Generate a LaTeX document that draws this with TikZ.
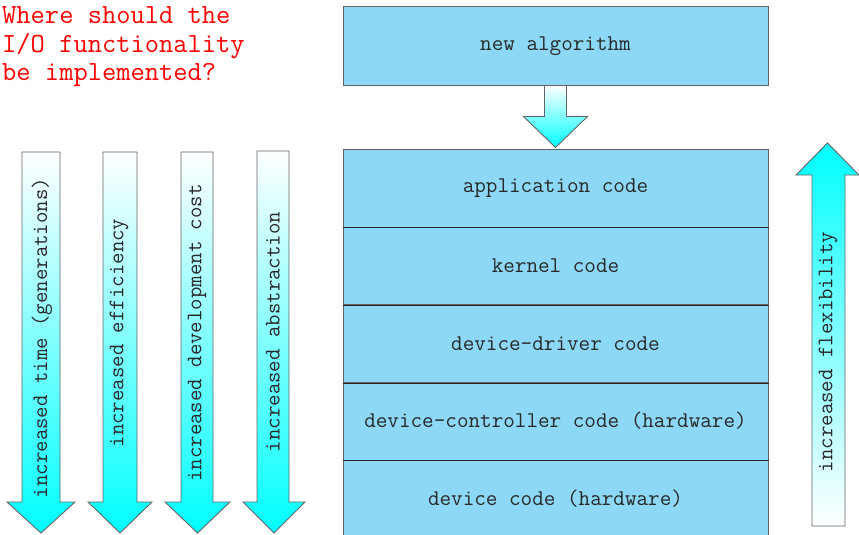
\documentclass[tikz,border=0pt]{standalone}
\usepackage{fontspec}
\usetikzlibrary{calc}
\definecolor{layerblue}{RGB}{141,216,246}
\definecolor{edgegray}{RGB}{100,100,100}
\definecolor{labelink}{RGB}{40,40,40}
\tikzset{
  layer/.style={draw=edgegray, line width=1pt, fill=layerblue, minimum width=425pt,
    minimum height=78pt, inner sep=0pt, font=\ttfamily\fontsize{22.5}{26}\selectfont, text=labelink},
  divider/.style={draw=black!85, line width=0.9pt},
  downarrow/.style={draw=edgegray, line width=0.9pt, top color=white, bottom color=cyan},
  uparrow/.style={draw=edgegray, line width=0.9pt, top color=cyan, bottom color=white},
  arrowtext/.style={rotate=90, font=\ttfamily\fontsize{22.2}{26}\selectfont, text=labelink, inner sep=0pt},
  question/.style={font=\ttfamily\fontsize{27.7}{28.5}\selectfont, text=red, align=left,
    anchor=north west, inner sep=0pt}
}
\begin{document}
\begin{tikzpicture}[x=1pt, y=-1pt]
\useasboundingbox (0,0) rectangle (859,535);

% question in the corner
\node[question] (q) at (2,6.5) {Where should the\\I/O functionality\\be implemented?};

% top box
\node[layer] (alg) at (555.5,46) {new algorithm};

% layered stack
\node[layer] (app) at (555.5,188) {application code};
\node[layer] (kern) at (555.5,266) {kernel code};
\node[layer] (drv) at (555.5,343.5) {device-driver code};
\node[layer] (ctrl) at (555.5,421) {device-controller code (hardware)};
\node[layer] (dev) at (555.5,499) {device code (hardware)};
\draw[divider] (app.south west) -- (app.south east);
\draw[divider] (kern.south west) -- (kern.south east);
\draw[divider] (drv.south west) -- (drv.south east);
\draw[divider] (ctrl.south west) -- (ctrl.south east);

% block arrow from the algorithm box into the stack
\path[downarrow]
  ($(alg.south)+(-11,0)$) -- ($(alg.south)+(11,0)$) -- ($(app.north)+(11,-32)$)
  -- ($(app.north)+(32,-32)$) -- ($(app.north)+(0,-1)$) -- ($(app.north)+(-32,-32)$)
  -- ($(app.north)+(-11,-32)$) -- cycle;

% downward arrows on the left
\path[downarrow] (22,152) -- (60,152) -- (60,502) -- (75,502) -- (41,533)
  -- (7,502) -- (22,502) -- cycle;
\path[downarrow] (103,152) -- (137,152) -- (137,502) -- (152,502) -- (120,533)
  -- (88,502) -- (103,502) -- cycle;
\path[downarrow] (181,152) -- (213,152) -- (213,502) -- (230,502) -- (197.5,533)
  -- (165,502) -- (181,502) -- cycle;
\path[downarrow] (257,151) -- (289,151) -- (289,502) -- (305,502) -- (274,533)
  -- (243,502) -- (257,502) -- cycle;
\node[arrowtext] (t1) at (42,338) {increased time (generations)};
\node[arrowtext] (t2) at (119,333) {increased efficiency};
\node[arrowtext] (t3) at (197,333) {increased development cost};
\node[arrowtext] (t4) at (273,332) {increased abstraction};

% upward arrow on the right
\path[uparrow] (812,526) -- (845,526) -- (845,175) -- (859,175) -- (827.5,143)
  -- (796,175) -- (812,175) -- cycle;
\node[arrowtext] (t5) at (828,352) {increased flexibility};
\end{tikzpicture}
\end{document}
